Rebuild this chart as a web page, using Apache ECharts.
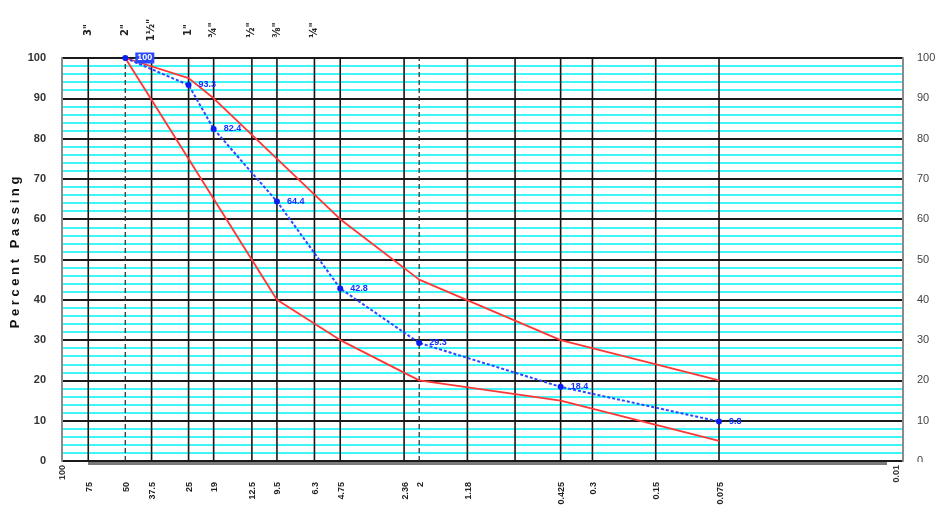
<!DOCTYPE html>
<html><head><meta charset="utf-8">
<script src="https://cdn.jsdelivr.net/npm/echarts@6/dist/echarts.min.js"></script>
<style>html,body{margin:0;padding:0;background:#fff}#c{width:939px;height:511px}</style>
</head><body><div id="c"></div>
<script>
// Sieve sizes (mm) for the vertical grid lines
const gridSizes = [75, 50, 37.5, 25, 19, 12.5, 9.5, 6.3, 4.75, 2.36, 2, 1.18, 0.7, 0.425, 0.3, 0.15, 0.075];
const dashedSizes = [50, 2];
// Bottom sieve labels
const bottomLabelSizes = [75, 50, 37.5, 25, 19, 12.5, 9.5, 6.3, 4.75, 2.36, 2, 1.18, 0.425, 0.3, 0.15, 0.075];
const bottomLabels = ['75', '50', '37.5', '25', '19', '12.5', '9.5', '6.3', '4.75', '2.36', '2', '1.18', '0.425', '0.3', '0.15', '0.075'];
const endLabelSizes = [100, 0.01];
const endLabels = ['100', '0.01'];
// Top sieve labels (inch)
const topLabelSizes = [75, 50, 37.5, 25, 19, 12.5, 9.5, 6.3];
const topLabels = ['3"', '2"', '1½"', '1"', '¾"', '½"', '⅜"', '¼"'];
// Sample gradation
const sampleSizes = [50, 25, 19, 9.5, 4.75, 2, 0.425, 0.075];
const samplePassing = [100, 93.3, 82.4, 64.4, 42.8, 29.3, 18.4, 9.8];
// Specification limits
const upperSizes = [50, 25, 19, 4.75, 2, 0.425, 0.075];
const upperPassing = [100, 95, 90, 60, 45, 30, 20];
const lowerSizes = [50, 9.5, 4.75, 2, 0.425, 0.075];
const lowerPassing = [100, 40, 30, 20, 15, 5];
const yMin = 0, yMax = 100, yStep = 10;

const zip = (a, b) => a.map((v, i) => [v, b[i]]);
const chart = echarts.init(document.getElementById('c'));

const yAxisBase = {
  type: 'value', min: yMin, max: yMax, interval: yStep,
  axisTick: {show: false},
  axisLine: {show: true, lineStyle: {color: '#8a8a8a', width: 2}},
  axisLabel: {color: '#333', fontSize: 11, fontWeight: 'bold', fontFamily: 'Liberation Sans'},
};

chart.setOption({
  animation: false,
  backgroundColor: '#fff',
  grid: {left: 62, right: 36, top: 58, bottom: 50, containLabel: false, outerBoundsMode: 'none'},
  xAxis: {
    type: 'log', logBase: 10, min: 0.01, max: 100, inverse: true,
    axisLabel: {show: false}, axisTick: {show: false}, splitLine: {show: false},
    axisLine: {show: true, onZero: false, lineStyle: {color: '#7a7a7a', width: 3}},
    offset: 2
  },
  yAxis: [
    Object.assign({}, yAxisBase, {
      position: 'left',
      axisLabel: Object.assign({}, yAxisBase.axisLabel, {margin: 16}),
      name: 'P e r c e n t   P a s s i n g', nameLocation: 'middle', nameGap: 40, nameRotate: 90,
      nameMoveOverlap: false,
      nameTextStyle: {fontSize: 13, fontWeight: 'bold', color: '#111', fontFamily: 'Liberation Sans', padding: [0, 0, 0, 14]},
      splitLine: {show: true, lineStyle: {color: '#1a1a1a', width: 2}},
      minorTick: {show: false, splitNumber: 5},
      minorSplitLine: {show: true, lineStyle: {color: '#3ff6f6', width: 2}}
    }),
    Object.assign({}, yAxisBase, {
      position: 'right',
      axisLabel: Object.assign({}, yAxisBase.axisLabel, {margin: 14, fontWeight: 'normal', color: '#444'}),
      splitLine: {show: false}
    })
  ],
  series: [
    {
      type: 'custom', name: 'grid', z: 3, silent: true,
      data: gridSizes.map(s => [s, 0]),
      renderItem: (params, api) => {
        const s = api.value(0);
        const p0 = api.coord([s, yMin]);
        const p1 = api.coord([s, yMax]);
        const dashed = dashedSizes.indexOf(s) >= 0;
        return {
          type: 'line',
          shape: {x1: p0[0], y1: p0[1], x2: p1[0], y2: p1[1]},
          style: {stroke: dashed ? '#333' : '#151515', lineWidth: dashed ? 1.3 : 1.6, lineDash: dashed ? [5, 3] : null}
        };
      }
    },
    {
      type: 'custom', name: 'bottomLabels', z: 11, silent: true, clip: false,
      data: bottomLabelSizes.map((s, i) => [s, 0, i]),
      renderItem: (params, api) => {
        const s = api.value(0);
        const p = api.coord([s, yMin]);
        return {
          type: 'text', x: p[0] + 1, y: p[1] + 21, rotation: Math.PI / 2,
          style: {text: bottomLabels[api.value(2)], align: 'right', verticalAlign: 'middle',
            font: 'bold 9px "Liberation Sans"', fill: '#222'}
        };
      }
    },
    {
      type: 'custom', name: 'endLabels', z: 10, silent: true, clip: false,
      data: endLabelSizes.map((s, i) => [s, 0, i]),
      renderItem: (params, api) => {
        const s = api.value(0);
        const p = api.coord([s, yMin]);
        const i = api.value(2);
        const dx = i === 0 ? 1 : -6;
        return {
          type: 'group',
          children: [
            {type: 'rect', shape: {x: p[0] + dx - 10, y: p[1] + 1, width: 35, height: 38},
              style: {fill: '#fff'}},
            {type: 'text', x: p[0] + dx, y: p[1] + 4, rotation: Math.PI / 2,
              style: {text: endLabels[i], align: 'right', verticalAlign: 'middle',
                font: 'bold 9px "Liberation Sans"', fill: '#333'}}
          ]
        };
      }
    },
    {
      type: 'custom', name: 'topLabels', z: 4, silent: true, clip: false,
      data: topLabelSizes.map((s, i) => [s, 100, i]),
      renderItem: (params, api) => {
        const s = api.value(0);
        const p = api.coord([s, yMax]);
        return {
          type: 'text', x: p[0], y: p[1] - 28, rotation: Math.PI / 2,
          style: {text: topLabels[api.value(2)], align: 'center', verticalAlign: 'middle',
            font: 'bold 10px "DejaVu Sans"', fill: '#222'}
        };
      }
    },
    {
      type: 'line', name: 'Upper', z: 5, data: zip(upperSizes, upperPassing),
      symbol: 'none', lineStyle: {color: '#ff3636', width: 1.8}
    },
    {
      type: 'line', name: 'Lower', z: 5, data: zip(lowerSizes, lowerPassing),
      symbol: 'none', lineStyle: {color: '#ff3636', width: 1.8}
    },
    {
      type: 'line', name: 'Sample', z: 6,
      data: zip(sampleSizes, samplePassing).map((d, i) => i === 0
        ? {value: d, label: {backgroundColor: '#2a48ff', color: '#fff', padding: [1, 2]}}
        : {value: d}),
      symbol: 'circle', symbolSize: 6,
      itemStyle: {color: '#0a1cf0'},
      lineStyle: {color: '#2a48ff', width: 2, type: [3, 2]},
      label: {
        show: true, position: 'right', distance: 7, fontSize: 9, color: '#1030ff',
        fontFamily: 'Liberation Sans', fontWeight: 'bold',
        formatter: p => String(p.value[1])
      }
    }
  ]
});
</script>
</body></html>
